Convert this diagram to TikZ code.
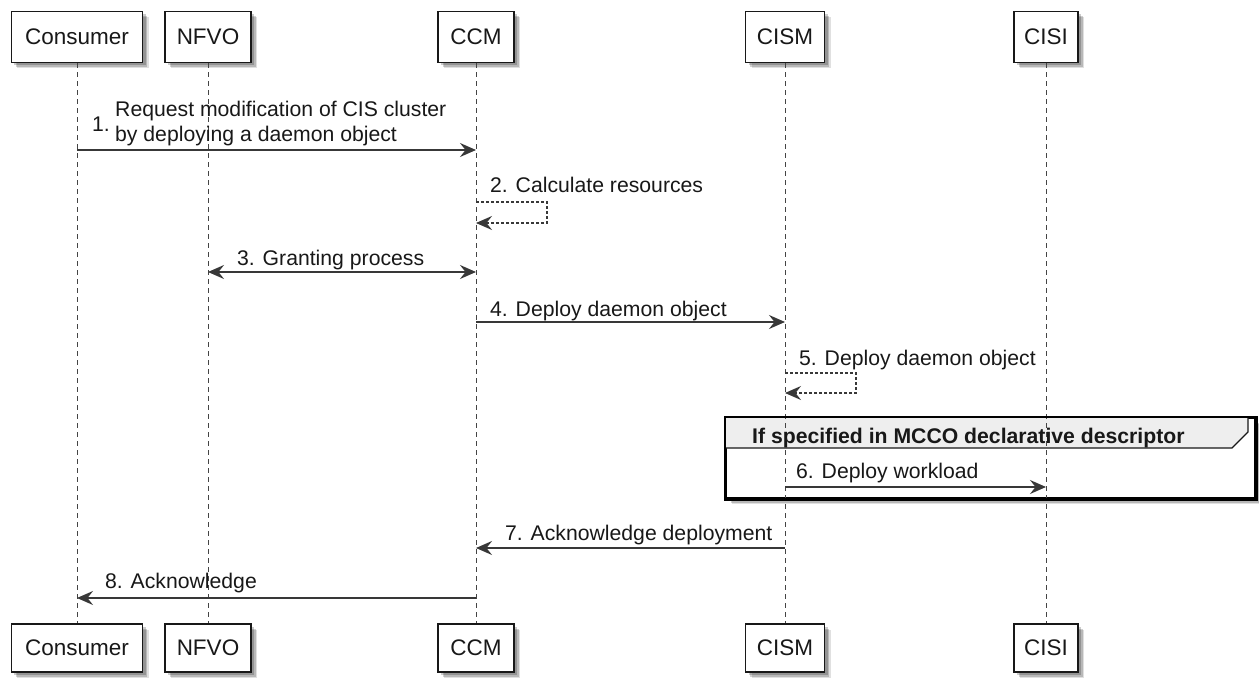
\documentclass[tikz,border=0pt]{standalone}
\usepackage{fontspec}
\setmainfont{Liberation Sans}
\usetikzlibrary{arrows.meta,shadows}

\definecolor{ink}{HTML}{181818}
\definecolor{arrowc}{HTML}{383838}
\definecolor{lifec}{HTML}{444444}
\definecolor{grouphead}{HTML}{EEEEEE}

\tikzset{
  softshadow/.style={
    general shadow={fill=black, opacity=0.12, shadow xshift=6bp, shadow yshift=-6bp, shadow scale=1.0},
    general shadow={fill=black, opacity=0.18, shadow xshift=4.5bp, shadow yshift=-4.5bp},
    general shadow={fill=black, opacity=0.2, shadow xshift=3bp, shadow yshift=-3bp}},
  participant/.style={draw=ink, line width=1.5bp, fill=white, inner sep=0pt,
    font=\fontsize{22.5bp}{27bp}\selectfont, text=ink, softshadow},
  lifeline/.style={draw=lifec, line width=1bp, dash pattern=on 5bp off 4bp},
  tip/.tip={Stealth[length=16bp,width=14bp,inset=5.5bp]},
  msg/.style={draw=arrowc, line width=1.3bp, -tip},
  msgboth/.style={draw=arrowc, line width=1.3bp, tip-tip},
  selfmsg/.style={draw=arrowc, line width=1.2bp, dash pattern=on 3bp off 2bp, -tip},
  lbl/.style={anchor=base west, inner sep=0pt, font=\fontsize{21.2bp}{25bp}\selectfont, text=ink},
  groupframe/.style={draw=black, line width=2.5bp, inner sep=0pt, fill=white, softshadow},
  grouptitle/.style={anchor=base west, inner sep=0pt, font=\fontsize{21.2bp}{25bp}\selectfont\bfseries, text=ink},
}

\begin{document}
\begin{tikzpicture}[x=1bp, y=-1bp]
  \useasboundingbox (0,0) rectangle (1259,684);

  % group frame (behind lifelines)
  \node[groupframe, minimum width=529bp, minimum height=80bp] (grp) at (990.5,458) {};
  \fill[grouphead] (grp.north west) -- (1248,418) -- (1248,432) -- (1232,448) -- (726,448) -- cycle;

  % participants, top row
  \node[participant, minimum width=131bp, minimum height=51bp] (conT)  at (77,37)   {Consumer};
  \node[participant, minimum width=86bp,  minimum height=51bp] (nfvoT) at (208,37)  {NFVO};
  \node[participant, minimum width=76bp,  minimum height=51bp] (ccmT)  at (476,37)  {CCM};
  \node[participant, minimum width=79bp,  minimum height=51bp] (cismT) at (785,37)  {CISM};
  \node[participant, minimum width=64bp,  minimum height=51bp] (cisiT) at (1046,37) {CISI};

  % participants, bottom row
  \node[participant, minimum width=131bp, minimum height=48bp] (conB)  at (77,648)   {Consumer};
  \node[participant, minimum width=86bp,  minimum height=48bp] (nfvoB) at (208,648)  {NFVO};
  \node[participant, minimum width=76bp,  minimum height=48bp] (ccmB)  at (476,648)  {CCM};
  \node[participant, minimum width=79bp,  minimum height=48bp] (cismB) at (785,648)  {CISM};
  \node[participant, minimum width=64bp,  minimum height=48bp] (cisiB) at (1046,648) {CISI};

  % lifelines
  \draw[lifeline] (conT.south)  -- (conB.north);
  \draw[lifeline] (nfvoT.south) -- (nfvoB.north);
  \draw[lifeline] (ccmT.south)  -- (ccmB.north);
  \draw[lifeline] (cismT.south) -- (cismB.north);
  \draw[lifeline] (cisiT.south) -- (cisiB.north);

  % group frame outline and title
  \draw[ink, line width=1.2bp] (726,448) -- (1232,448) -- (1248,432) -- (1248,418);
  \draw[black, line width=2.5bp] (grp.north west) rectangle (grp.south east);
  \node[grouptitle] (grpT) at (752,443) {If specified in MCCO declarative descriptor};

  % 1. request
  \coordinate (m1a) at (conT |- 0,150);
  \coordinate (m1b) at (ccmT |- 0,150);
  \draw[msg] (m1a) -- (m1b);
  \node[lbl] (m1n) at (92,131.5) {1.};
  \node[lbl] (m1l1) at (115,117) {Request modification of CIS cluster};
  \node[lbl] (m1l2) at (115,142) {by deploying a daemon object};

  % 2. self message on CCM
  \coordinate (m2a) at (ccmT |- 0,202);
  \coordinate (m2b) at (ccmT |- 0,223);
  \draw[selfmsg] (m2a) -- (547,202) -- (547,223) -- (m2b);
  \node[lbl] (m2l) at (490,193) {2. Calculate resources};

  % 3. granting (both directions)
  \coordinate (m3a) at (nfvoT |- 0,272);
  \coordinate (m3b) at (ccmT |- 0,272);
  \draw[msgboth] (m3a) -- (m3b);
  \node[lbl] (m3l) at (237,265) {3. Granting process};

  % 4. deploy daemon object
  \coordinate (m4a) at (ccmT |- 0,322);
  \coordinate (m4b) at (cismT |- 0,322);
  \draw[msg] (m4a) -- (m4b);
  \node[lbl] (m4l) at (490,316) {4. Deploy daemon object};

  % 5. self message on CISM
  \coordinate (m5a) at (cismT |- 0,373);
  \coordinate (m5b) at (cismT |- 0,393);
  \draw[selfmsg] (m5a) -- (856,373) -- (856,393) -- (m5b);
  \node[lbl] (m5l) at (799,365) {5. Deploy daemon object};

  % 6. deploy workload
  \coordinate (m6a) at (cismT |- 0,487);
  \coordinate (m6b) at (cisiT |- 0,487);
  \draw[msg] (m6a) -- (m6b);
  \node[lbl] (m6l) at (796,478) {6. Deploy workload};

  % 7. acknowledge deployment
  \coordinate (m7a) at (cismT |- 0,548);
  \coordinate (m7b) at (ccmT |- 0,548);
  \draw[msg] (m7a) -- (m7b);
  \node[lbl] (m7l) at (505,540) {7. Acknowledge deployment};

  % 8. acknowledge
  \coordinate (m8a) at (ccmT |- 0,598);
  \coordinate (m8b) at (conT |- 0,598);
  \draw[msg] (m8a) -- (m8b);
  \node[lbl] (m8l) at (105,588) {8. Acknowledge};
\end{tikzpicture}
\end{document}
